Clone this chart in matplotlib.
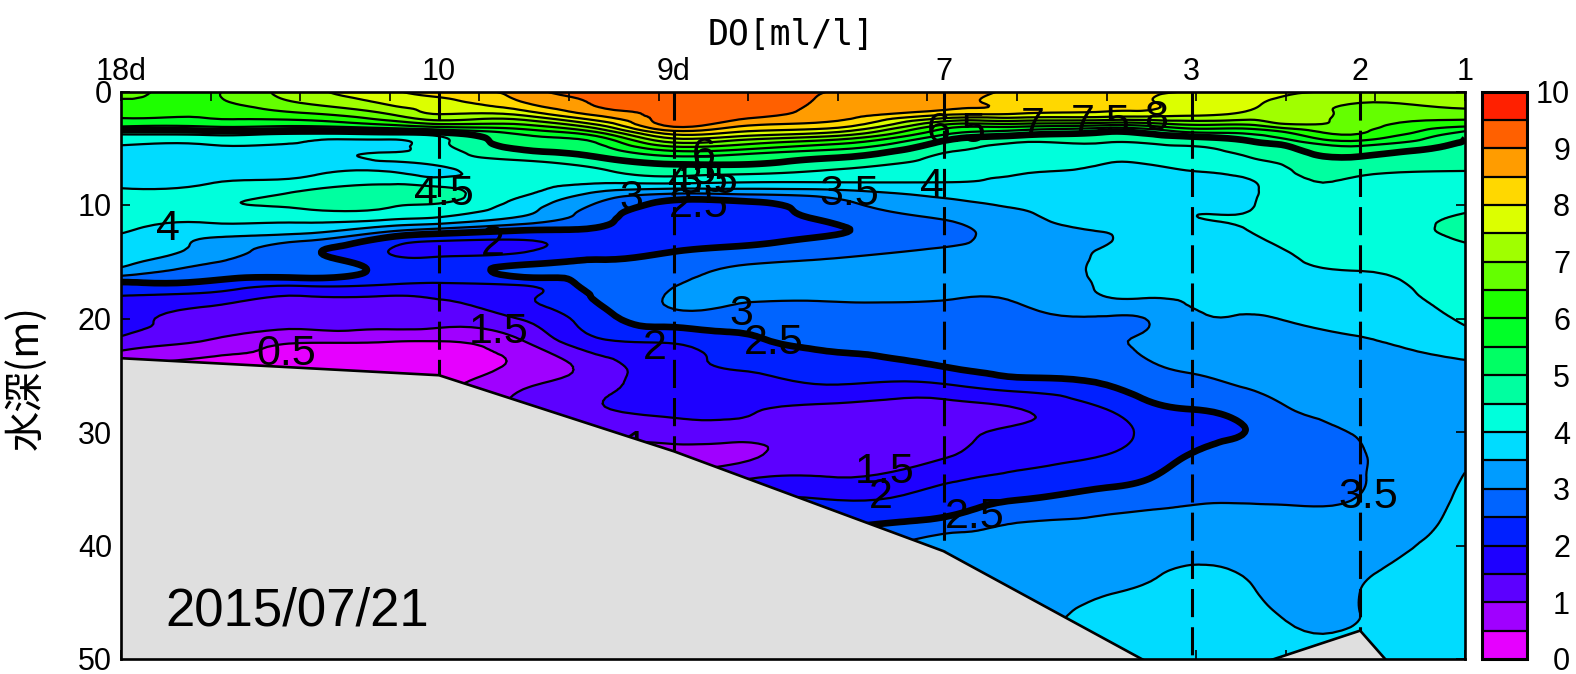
import matplotlib
matplotlib.use("Agg")
import numpy as np
import matplotlib.pyplot as plt
import matplotlib.tri as tri

plt.rcParams['font.family'] = ['Liberation Sans', 'DejaVu Sans']

# distance along the section (km), one list of DO per column
dist = [0, 1, 2, 3, 3.55, 4.5, 5.3, 6.17, 7, 8, 9.18, 10, 11, 11.46, 11.95, 12.6, 13, 13.83, 15]
depth = [0, 1, 2, 3, 3.5, 4, 4.5, 5, 5.5, 6, 6.5, 7,
         8, 9, 10, 11, 12, 13, 14, 15, 16, 17, 18,
         20, 22, 24, 26, 28, 30, 32, 34, 36, 38, 40, 42, 44, 46, 48, 50]

do_00 = [6.6,6.42,6.1,5.6,4.85,4.3,4.1,3.9,3.8,3.7,3.65,3.65,3.85,4.15,4.3,4.25,4.15,3.9,3.75,3.7,3.2,2.35,2.0,1.75,1.35,0.6,0.6,0.6,0.6,0.6,0.6,0.6,0.6,0.6,0.6,0.6,0.6,0.6,0.6]
do_01 = [6.42,6.38,6.1,5.6,4.95,4.35,4.07,3.9,3.8,3.75,3.75,3.8,3.98,4.2,4.42,4.2,3.85,3.47,3.35,3.05,2.75,2.35,1.85,1.3,0.95,0.35,0.3,0.3,0.3,0.3,0.3,0.3,0.3,0.3,0.3,0.3,0.3,0.3,0.3]
do_02 = [7.3,7.0,6.4,5.55,4.87,4.15,4.0,3.9,3.85,3.83,3.85,3.9,4.15,4.58,4.6,4.25,3.8,3.15,2.62,2.72,2.7,2.1,1.5,1.3,0.55,0.35,0.35,0.35,0.35,0.35,0.35,0.35,0.35,0.35,0.35,0.35,0.35,0.35,0.35]
do_03 = [7.9,7.6,7.0,5.9,5.0,4.2,3.9,3.93,4.03,4.03,3.93,3.98,4.42,4.65,4.55,4.2,3.35,2.35,1.99,2.2,2.35,2.0,1.5,1.3,0.52,0.3,0.3,0.3,0.3,0.3,0.3,0.3,0.3,0.3,0.3,0.3,0.3,0.3,0.3]
do_10 = [8.25,7.85,7.5,6.25,5.2,4.45,4.35,4.3,4.25,4.2,4.02,3.9,4.25,4.7,4.45,4.05,3.1,2.1,1.85,2.15,2.2,1.95,1.55,1.3,0.5,0.35,0.4,0.4,0.4,0.4,0.4,0.4,0.4,0.4,0.4,0.4,0.4,0.4,0.4]
do_45 = [8.8,8.48,7.65,6.4,5.8,5.4,5.25,5.07,4.85,4.55,4.3,4.15,4.1,4.05,3.75,3.48,2.7,2.03,1.96,2.35,2.65,2.05,1.9,1.55,1.0,0.62,0.95,1.2,1.3,1.3,1.3,1.3,1.3,1.3,1.3,1.3,1.3,1.3,1.3]
do_53 = [9.15,9.05,8.6,7.35,6.6,5.9,5.5,5.3,5.1,4.87,4.6,4.42,4.06,3.4,2.95,2.72,2.5,2.15,2.25,2.55,2.65,2.65,2.55,2.28,1.9,1.25,1.35,1.47,1.25,1.05,1.1,1.1,1.1,1.1,1.1,1.1,1.1,1.1,1.1]
do_9d = [9.38,9.35,9.2,9.1,8.45,7.7,7.0,6.3,5.7,5.28,4.95,4.72,4.1,3.0,2.3,2.2,2.15,2.25,2.47,2.7,2.88,2.98,3.04,2.8,2.05,1.85,1.73,1.6,1.25,0.85,1.0,1.0,1.0,1.0,1.0,1.0,1.0,1.0,1.0]
do_70 = [9.35,9.3,9.2,8.5,8.0,7.35,6.65,6.1,5.5,5.22,4.95,4.67,4.0,3.07,2.35,2.3,2.28,2.35,2.65,2.95,3.08,3.1,3.07,2.75,2.4,2.1,1.8,1.55,1.25,0.92,1.45,1.85,2.0,2.2,2.3,2.4,2.5,2.6,2.7]
do_80 = [8.97,8.9,8.75,8.2,7.6,6.85,6.15,5.6,5.2,4.9,4.65,4.45,4.0,3.25,2.85,2.65,2.47,2.6,2.85,3.05,3.1,3.1,3.05,2.85,2.65,2.35,1.95,1.35,1.2,1.3,1.5,2.0,2.4,2.7,2.9,3.0,3.1,3.2,3.3]
do_7 = [8.75,8.65,8.1,6.38,5.8,5.3,4.9,4.68,4.47,4.37,4.27,4.17,4.0,3.63,3.33,3.08,2.85,2.85,3.05,3.12,3.15,3.1,3.03,2.85,2.7,2.55,1.9,1.3,1.3,1.45,1.85,2.25,2.65,3.3,3.35,3.4,3.45,3.5,3.55]
do_100 = [8.35,8.3,7.95,6.2,5.4,4.87,4.5,4.4,4.3,4.2,4.15,4.07,3.9,3.75,3.55,3.42,3.32,3.27,3.27,3.25,3.2,3.15,3.06,2.9,2.8,2.7,2.2,1.48,1.6,1.8,2.1,2.5,3.0,3.25,3.35,3.38,3.42,3.5,3.55]
do_110 = [8.3,8.2,7.8,5.93,5.05,4.75,4.5,4.35,4.2,4.07,3.97,3.9,3.8,3.75,3.68,3.62,3.53,3.49,3.52,3.55,3.58,3.56,3.52,2.95,2.9,2.7,2.47,2.0,1.85,2.0,2.3,2.75,3.1,3.2,3.3,3.47,3.58,3.65,3.7]
do_115 = [8.1,8.05,7.75,6.05,5.2,4.82,4.53,4.37,4.22,4.1,3.98,3.9,3.8,3.78,3.75,3.72,3.68,3.65,3.63,3.62,3.62,3.6,3.54,3.02,3.1,2.95,2.72,2.35,2.1,2.2,2.47,2.85,3.15,3.3,3.43,3.53,3.6,3.65,3.7]
do_3 = [7.98,7.8,7.6,6.4,5.65,4.97,4.65,4.42,4.3,4.2,4.1,4.0,3.9,3.85,3.88,3.99,3.85,3.82,3.8,3.75,3.7,3.62,3.56,3.42,3.3,3.1,2.85,2.5,2.35,2.52,2.75,2.96,3.15,3.35,3.52,3.6,3.65,3.68,3.7]
do_126 = [7.75,7.6,7.35,6.4,5.75,5.27,4.93,4.75,4.58,4.45,4.3,4.18,3.95,3.92,3.97,4.05,4.03,3.95,3.9,3.85,3.8,3.72,3.65,3.47,3.35,3.2,3.03,2.72,2.52,2.68,2.8,2.97,3.12,3.25,3.43,3.53,3.6,3.65,3.68]
do_130 = [7.6,7.35,7.15,6.85,6.1,5.65,5.2,4.9,4.78,4.65,4.52,4.45,4.35,4.3,4.28,4.25,4.2,4.1,4.0,3.95,3.9,3.82,3.75,3.52,3.4,3.3,3.12,2.97,2.72,2.75,2.85,2.97,3.1,3.2,3.3,3.38,3.47,3.55,3.6]
do_2 = [7.4,7.0,6.85,6.72,6.58,6.3,5.8,5.35,5.1,4.9,4.78,4.62,4.43,4.38,4.35,4.3,4.28,4.25,4.15,4.07,3.98,3.9,3.85,3.65,3.47,3.35,3.25,3.15,3.03,2.98,2.98,3.02,3.15,3.3,3.42,3.5,3.5,3.55,3.6]
do_1 = [7.4,7.2,6.75,6.1,5.5,5.05,4.95,4.85,4.75,4.65,4.58,4.5,4.4,4.35,4.4,4.55,4.7,4.55,4.4,4.35,4.3,4.25,4.2,4.07,3.8,3.45,3.35,3.3,3.35,3.42,3.52,3.6,3.65,3.7,3.72,3.75,3.77,3.78,3.8]

# stations and sea bed
station_names = ['18d', '10', '9d', '7', '3', '2', '1']
station_km = [0, 3.55, 6.17, 9.18, 11.95, 13.83, 15]
bed_depth = [23.5, 25, 31.7, 40.5, 52.4, 47.5, 58]

levels = [0, 0.5, 1, 1.5, 2, 2.5, 3, 3.5, 4, 4.5, 5, 5.5, 6, 6.5, 7, 7.5, 8, 8.5, 9, 9.5, 10]
colors = ['#E600FF', '#A000FF', '#5C00FF', '#1E00FF', '#0020FF', '#0064FF', '#009CFF',
          '#00DCFF', '#00FFDC', '#00FFA0', '#00FF64', '#00FF28', '#1EFF00', '#64FF00',
          '#A0FF00', '#DCFF00', '#FFD800', '#FF9C00', '#FF6000', '#FF2000']

label_text = ['4.5', '4', '2', '3', '2.5', '4.5', '3.5', '6', '5', '3.5', '4', '6.5', '7', '7.5',
              '8', '3', '2.5', '2', '1.5', '0.5', '1', '1.5', '2', '2.5', '3.5']
label_x = [3.6, 0.52, 4.15, 5.7, 6.45, 6.44, 6.55, 6.5, 6.5, 8.13, 9.05, 9.33, 10.17, 10.93,
           11.55, 6.92, 7.29, 5.96, 4.22, 1.84, 5.74, 8.52, 8.48, 9.53, 13.92]
label_y = [9.0, 12.1, 13.4, 9.5, 10.1, 7.9, 8.0, 5.7, 7.2, 9.0, 8.4, 3.5, 3.0, 2.8,
           2.4, 19.6, 22.2, 22.6, 21.2, 23.1, 31.5, 33.5, 35.7, 37.5, 35.7]

W, H = 1576, 674
fig = plt.figure(figsize=(W / 100, H / 100), dpi=100)
ax = fig.add_axes([121 / W, 1 - 659 / H, (1465 - 121) / W, (659 - 91.5) / H])
cax = fig.add_axes([1482 / W, 1 - 659 / H, 45 / W, (659 - 91.5) / H])

do = np.column_stack([do_00, do_01, do_02, do_03, do_10, do_45, do_53, do_9d, do_70, do_80,
                      do_7, do_100, do_110, do_115, do_3, do_126, do_130, do_2, do_1])

# matplotlib's own refiner, so the contours come out round instead of angular
xx, yy = np.meshgrid(dist, depth)
triang = tri.Triangulation(xx.ravel(), yy.ravel())
refiner = tri.UniformTriRefiner(triang)
fine_tri, fine_do = refiner.refine_field(do.ravel(), subdiv=3)

cf = ax.tricontourf(fine_tri, fine_do, levels=levels, colors=colors, zorder=1)
widths = [4.8 if lev in (2.5, 5) else 1.6 for lev in levels]
ax.tricontour(fine_tri, fine_do, levels=levels, colors='black', linewidths=widths,
              linestyles='solid', zorder=2)

for t, x, y in zip(label_text, label_x, label_y):
    ax.text(x, y, t, fontsize=31, ha='center', va='center', zorder=3)

# station lines stop at the sea bed
for x, b in zip(station_km[1:-1], bed_depth[1:-1]):
    ax.plot([x, x], [0, b], color='black', lw=2.2, linestyle=(0, (9.2, 3.3)),
            dash_capstyle='butt', zorder=3)

ax.fill_between(station_km, bed_depth, 60, color='#DFDFDF', lw=0, zorder=4)
ax.plot(station_km, bed_depth, color='black', lw=1.9, zorder=5)

ax.set_xlim(0, 15)
ax.set_ylim(50, 0)
ax.set_xticks(range(0, 16))
ax.set_yticks([0, 10, 20, 30, 40, 50])
ax.tick_params(axis='both', direction='in', length=6.5, width=1.2, top=True, right=True,
               labelbottom=False, labelsize=22, pad=6.5, zorder=6)
for s in ax.spines.values():
    s.set_linewidth(1.9)
    s.set_zorder(7)

for name, x in zip(station_names, station_km):
    ax.annotate(name, (x, 1), xycoords=('data', 'axes fraction'), xytext=(0, 8.3),
                textcoords='offset points', ha='center', va='baseline', fontsize=22)

ax.text(0.5, 47.07, '2015/07/21', fontsize=38, ha='left', va='baseline', zorder=8)

cbar = fig.colorbar(cf, cax=cax, drawedges=True, ticks=range(0, 11))
cbar.dividers.set_linewidth(1.6)
cbar.outline.set_linewidth(2.2)
cax.tick_params(length=0, labelsize=22, pad=31)
for lab in cax.get_yticklabels():
    lab.set_ha('right')

fig.text(791 / W, 1 - 35 / H, 'DO[ml/l]', fontsize=25, family='DejaVu Sans Mono',
         ha='center', va='center')
fig.text(26 / W, 1 - 377 / H, '水深(m)', fontsize=29, rotation=90, ha='center', va='center',
         family=['Noto Sans CJK JP', 'DejaVu Sans'])

fig.savefig('out.png', dpi=100)
